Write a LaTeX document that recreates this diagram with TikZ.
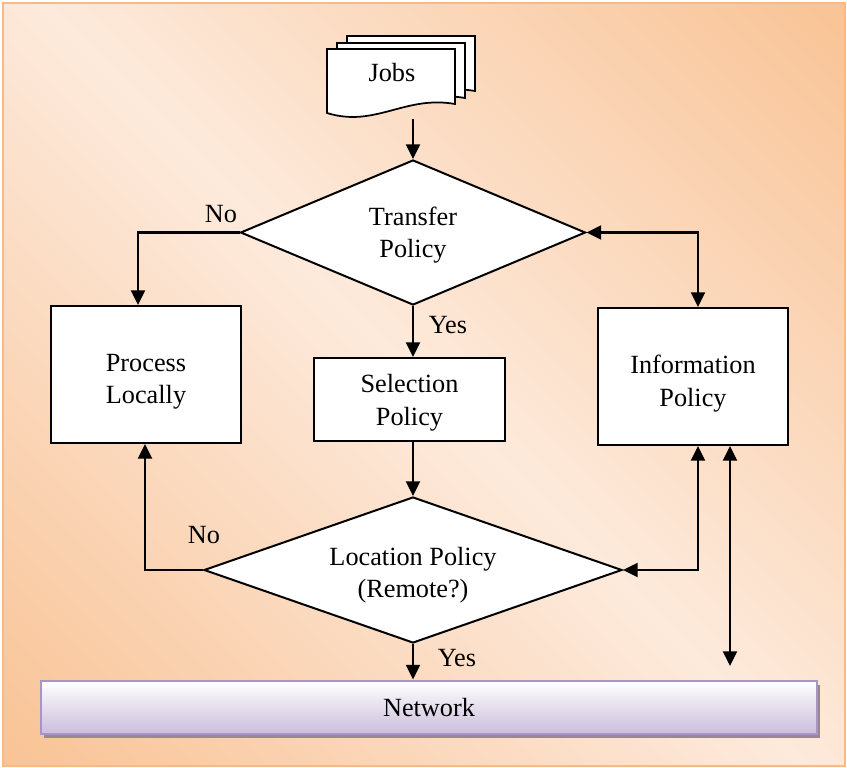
\documentclass[tikz,border=0pt]{standalone}
\usepackage{fontspec}
\setmainfont{Liberation Serif}
\usetikzlibrary{shapes.geometric,arrows.meta}
\definecolor{peach}{HTML}{F8BC88}
\definecolor{cream}{HTML}{FDEADC}
\definecolor{framec}{HTML}{F7B985}
\definecolor{lav}{HTML}{CABDDB}
\definecolor{lavedge}{HTML}{A596C6}
\definecolor{shadowc}{HTML}{9A8792}
% diagonal background: peach corners fading to a cream band
\pgfdeclareverticalshading{bgshade}{100bp}{color(0bp)=(peach); color(8bp)=(peach);
  color(50bp)=(cream); color(92bp)=(peach); color(100bp)=(peach)}
\tikzset{
  every node/.style={font=\fontsize{19.7}{24.5}\selectfont, align=center},
  box/.style={draw, line width=1.5pt, fill=white, inner sep=0pt},
  decision/.style={diamond, draw, line width=1.5pt, fill=white, inner sep=0pt},
  conn/.style={line width=1.6pt, -{Triangle[length=11pt,width=10.5pt]}},
  biconn/.style={line width=1.6pt, {Triangle[length=11pt,width=10.5pt]}-{Triangle[length=11pt,width=10.5pt]}},
  doc/.style={draw, line width=1.3pt, fill=white},
}
\begin{document}
\begin{tikzpicture}[x=0.75pt,y=-0.75pt]
\useasboundingbox (0,0) rectangle (847,768);
% page background and frame
\fill[white] (0,0) rectangle (847,768);
\shade[shading=bgshade,shading angle=-45] (3,3) rectangle (845,766);
\draw[framec, line width=1.5pt] (3,3) rectangle (845,766);

% stack of job documents
\foreach \dx/\dy in {20/-13,10/-6,0/0}{
  \draw[doc, shift={(\dx,\dy)}] (327,49) -- (455,49) -- (455,104)
    .. controls (405,95) and (375,128) .. (327,113) -- cycle;
}
\node (jobs) at (392,73) {Jobs};
\coordinate (jobsout) at (413,119);

% decisions and processes (a taller text box sets the text a little lower)
\node[decision, aspect=2.38, minimum width=258.75pt, minimum height=108.75pt, text height=42pt] (transfer) at (413,232.5) {Transfer\\Policy};
\node[box, minimum width=142.5pt, minimum height=102.75pt, text height=48.25pt] (proc) at (146,374.5) {Process\\Locally};
\node[box, minimum width=143.25pt, minimum height=62.25pt, text height=42.75pt] (sel) at (409.5,399.5) {Selection\\Policy};
\node[box, minimum width=142.5pt, minimum height=102.75pt, text height=49pt] (info) at (693,376.5) {Information\\Policy};
\node[decision, aspect=2.86, minimum width=313.5pt, minimum height=109.5pt, text height=45.75pt] (loc) at (413,570) {Location Policy\\(Remote?)};

% network bar with drop shadow
\fill[shadowc] (44,685) rectangle (820,738);
\node[draw=lavedge, line width=2.2pt, top color=white, bottom color=lav,
      minimum width=582pt, minimum height=39.75pt, inner sep=0pt] (net) at (429,707.5) {Network};

% connectors
\draw[conn] (jobsout) -- (jobsout |- transfer.north);
\draw[conn] (transfer.west) -| ([xshift=-6pt]proc.north);
\draw[conn] (transfer.south) -- (transfer.south |- sel.north);
\draw[conn] (sel.south -| loc.north) -- (loc.north);
\draw[conn] (loc.west) -| ([xshift=-0.75pt]proc.south);
\draw[conn] (loc.south) -- (loc.south |- net.north);
\draw[biconn] (transfer.east) -| ([xshift=3.75pt]info.north);
\draw[biconn] ([xshift=3.75pt]info.south) |- (loc.east);
\coordinate (netend) at (730,666);
\draw[biconn] (info.south -| netend) -- (netend);

% branch labels
\node (no1) at (221,214) {No};
\node (yes1) at (448,325) {Yes};
\node (no2) at (204,535) {No};
\node (yes2) at (457,658) {Yes};
\end{tikzpicture}
\end{document}
